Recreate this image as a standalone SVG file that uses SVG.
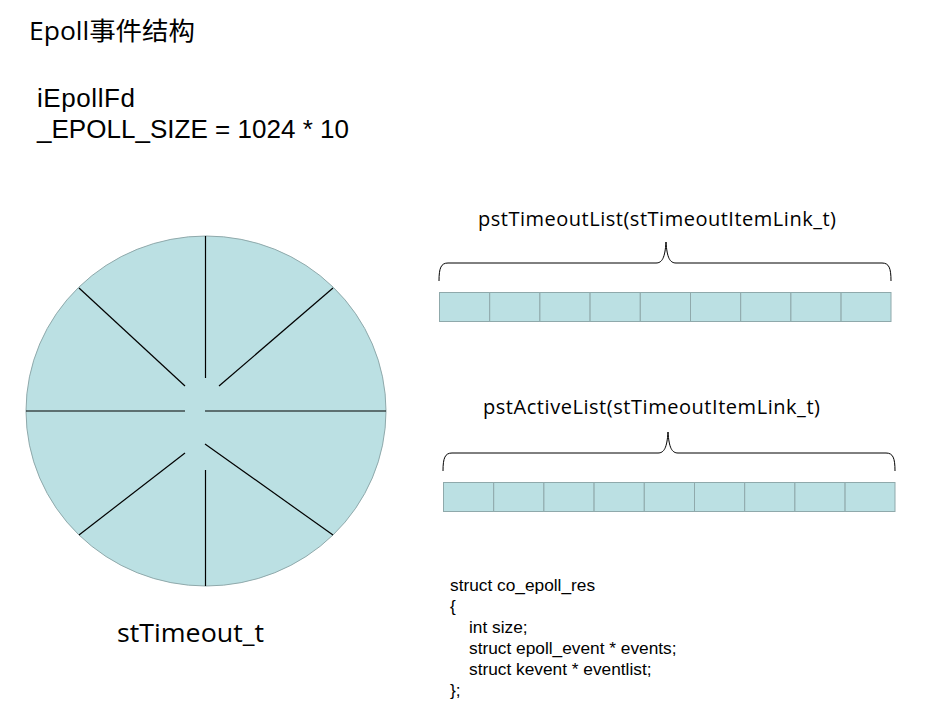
<svg xmlns="http://www.w3.org/2000/svg" width="926" height="723" viewBox="0 0 926 723">
<style>
.t{font-family:"Open Sans","Noto Sans CJK SC",sans-serif;fill:#000}
.l{font-family:"Liberation Sans",Arial,sans-serif;fill:#000}
.c{font-family:"Liberation Sans",Arial,sans-serif;font-size:17.3px;fill:#000}
.cell{fill:#BBE0E3;stroke:#8FA9AB;stroke-width:1}
.sp{stroke:#000;stroke-width:1.2;fill:none}
.br{stroke:#000;stroke-width:1;fill:none}
</style>
<rect width="926" height="723" fill="#fff"/>
<g id="title"><text class="t" x="29" y="40" font-size="25.5" textLength="166" lengthAdjust="spacingAndGlyphs">Epoll事件结构</text></g>
<g id="epollfd">
<text class="l" x="37" y="107" font-size="26" textLength="98">iEpollFd</text>
<text class="l" x="37" y="138" font-size="26" textLength="312">_EPOLL_SIZE = 1024 * 10</text>
</g>
<g id="wheel">
<ellipse cx="206" cy="411" rx="180" ry="175" fill="#BBE0E3" stroke="#8FA9AB" stroke-width="1"/>
<line class="sp" x1="205.5" y1="236" x2="205.5" y2="378"/>
<line class="sp" x1="205.5" y1="470" x2="205.5" y2="586"/>
<line class="sp" x1="26" y1="411" x2="185" y2="411"/>
<line class="sp" x1="205" y1="411" x2="386" y2="411"/>
<line class="sp" x1="79" y1="288" x2="185" y2="386"/>
<line class="sp" x1="333" y1="288" x2="219" y2="386"/>
<line class="sp" x1="185" y1="453" x2="79" y2="535"/>
<line class="sp" x1="205" y1="444" x2="333" y2="535"/>
<text class="t" x="117" y="642" font-size="25.5" textLength="147" lengthAdjust="spacingAndGlyphs">stTimeout_t</text>
</g>
<g id="timeoutList">
<text class="t" x="478" y="226" font-size="20" textLength="358">pstTimeoutList(stTimeoutItemLink_t)</text>
<path class="br" d="M439,281 C439,268 441,263 448,263 L656,263 C662,263 665,258 666,242 C667,258 670,263 676,263 L882,263 C889,263 891,268 891,281"/>
<rect class="cell" x="439.5" y="292.5" width="50.2" height="29"/>
<rect class="cell" x="489.7" y="292.5" width="50.2" height="29"/>
<rect class="cell" x="539.9" y="292.5" width="50.2" height="29"/>
<rect class="cell" x="590.1" y="292.5" width="50.2" height="29"/>
<rect class="cell" x="640.3" y="292.5" width="50.2" height="29"/>
<rect class="cell" x="690.5" y="292.5" width="50.2" height="29"/>
<rect class="cell" x="740.7" y="292.5" width="50.2" height="29"/>
<rect class="cell" x="790.9" y="292.5" width="50.2" height="29"/>
<rect class="cell" x="841.1" y="292.5" width="49.9" height="29"/>
</g>
<g id="activeList">
<text class="t" x="483" y="414" font-size="20" textLength="337">pstActiveList(stTimeoutItemLink_t)</text>
<path class="br" d="M443,471 C443,458 445,453 452,453 L658,453 C664,453 667,448 668,432 C669,448 672,453 678,453 L886,453 C893,453 895,458 895,471"/>
<rect class="cell" x="443.5" y="482.5" width="50.2" height="29"/>
<rect class="cell" x="493.7" y="482.5" width="50.2" height="29"/>
<rect class="cell" x="543.9" y="482.5" width="50.2" height="29"/>
<rect class="cell" x="594.1" y="482.5" width="50.2" height="29"/>
<rect class="cell" x="644.3" y="482.5" width="50.2" height="29"/>
<rect class="cell" x="694.5" y="482.5" width="50.2" height="29"/>
<rect class="cell" x="744.7" y="482.5" width="50.2" height="29"/>
<rect class="cell" x="794.9" y="482.5" width="50.2" height="29"/>
<rect class="cell" x="845.1" y="482.5" width="49.9" height="29"/>
</g>
<g id="code">
<text class="c" x="450" y="591">struct co_epoll_res</text>
<text class="c" x="450" y="612">{</text>
<text class="c" x="469" y="633">int size;</text>
<text class="c" x="469" y="654">struct epoll_event * events;</text>
<text class="c" x="469" y="675">struct kevent * eventlist;</text>
<text class="c" x="450" y="696">};</text>
</g>
<g id="connectors"></g>
</svg>
